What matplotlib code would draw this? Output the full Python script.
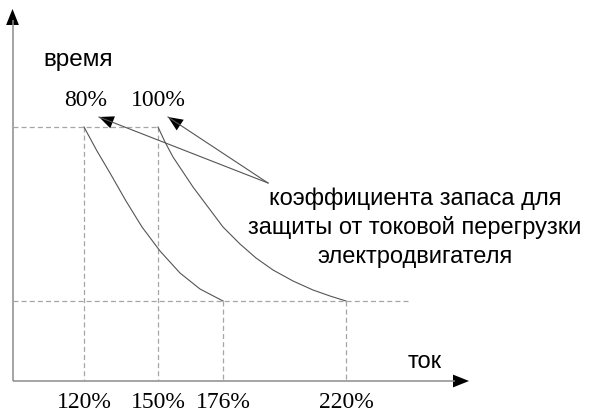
import matplotlib
matplotlib.use("Agg")
import matplotlib.pyplot as plt
from matplotlib.patches import FancyArrowPatch

# ---- data (schematic coordinates, x: current position, y: time position, top = 0) ----
tick_labels = ["120%", "150%", "176%", "220%"]
tick_x = [84, 158, 223, 346]

curve_labels = ["80%", "100%"]
curve_label_x = [86, 158]
curve80_x = [84, 97, 110, 126, 142, 160, 180, 200, 223]
curve80_y = [127, 151, 173, 201, 227, 251, 273, 289, 301]
curve100_x = [158, 165, 173, 183, 193, 208, 223, 240, 256, 273, 293, 313, 330, 346]
curve100_y = [127, 142, 157, 172, 187, 207, 227, 244, 258, 270, 281, 290, 296, 301]

t_high = 127
t_low = 301
origin_x = 12.5
origin_y = 381

annotation_lines = ["коэффициента запаса для",
                    "защиты от токовой перегрузки",
                    "электродвигателя"]
annot_anchor = (268, 183)
arrow_tips = [(99, 117), (168, 117)]

axis_color = "#8c8c8c"
dash_color = "#a6a6a6"
curve_color = "#555555"

fig = plt.figure(figsize=(5.93, 4.2), dpi=100)
ax = fig.add_axes([0, 0, 1, 1])
ax.set_xlim(0, 593)
ax.set_ylim(420, 0)
ax.axis("off")

def arrow(p0, p1, color, lw, hl, hw):
    a = FancyArrowPatch(p0, p1, arrowstyle=f"-|>,head_length={hl},head_width={hw}",
                        mutation_scale=1, color=color, lw=lw, shrinkA=0, shrinkB=0,
                        joinstyle="miter", capstyle="butt")
    ax.add_patch(a)
    return a

def head(p0, p1, hl, hw):
    # black filled head only
    a = FancyArrowPatch(p0, p1, arrowstyle=f"-|>,head_length={hl},head_width={hw}",
                        mutation_scale=1, color="black", lw=0.01, shrinkA=0, shrinkB=0)
    ax.add_patch(a)

# axes with arrows
ax.plot([origin_x, origin_x], [origin_y, 20], color=axis_color, lw=1.1, solid_capstyle="butt")
head((origin_x, 40), (origin_x, 9), 11.5, 4.6)
ax.plot([origin_x, 455], [origin_y, origin_y], color=axis_color, lw=1.1, solid_capstyle="butt")
head((440, origin_y), (469, origin_y), 11.5, 4.6)

dash = dict(color=dash_color, lw=0.9, dashes=(4, 2.5))
# horizontal dashed lines
ax.plot([origin_x, tick_x[1]], [t_high, t_high], **dash)
ax.plot([origin_x, 410], [t_low, t_low], **dash)
# vertical dashed lines
ax.plot([tick_x[0], tick_x[0]], [t_high, origin_y], **dash)
ax.plot([tick_x[1], tick_x[1]], [t_high, origin_y], **dash)
ax.plot([tick_x[2], tick_x[2]], [t_low, origin_y], **dash)
ax.plot([tick_x[3], tick_x[3]], [t_low, origin_y], **dash)

# curves
ax.plot(curve80_x, curve80_y, color=curve_color, lw=0.8)
ax.plot(curve100_x, curve100_y, color=curve_color, lw=0.8)

# pointer arrows: gray line, black head
for tip in arrow_tips:
    ax.plot([annot_anchor[0], tip[0]], [annot_anchor[1], tip[1]], color=curve_color, lw=0.8)
    head(annot_anchor, tip, 10.5, 4.6)

serif = ["Liberation Serif", "DejaVu Serif"]
sans = ["Liberation Sans", "DejaVu Sans"]

for lbl, x in zip(tick_labels, tick_x):
    ax.text(x, 403, lbl, family=serif, fontsize=17, ha="center", va="center")

for lbl, x in zip(curve_labels, curve_label_x):
    ax.text(x, 101, lbl, family=serif, fontsize=17, ha="center", va="center")

ax.text(43, 66, "время", family=sans, fontsize=17.5, ha="left", va="baseline")
ax.text(408, 368, "ток", family=sans, fontsize=17, ha="left", va="baseline")

for i, line in enumerate(annotation_lines):
    ax.text(415, 205 + i * 29, line, family=sans, fontsize=17, ha="center", va="baseline")

fig.savefig("out.png", dpi=100)
